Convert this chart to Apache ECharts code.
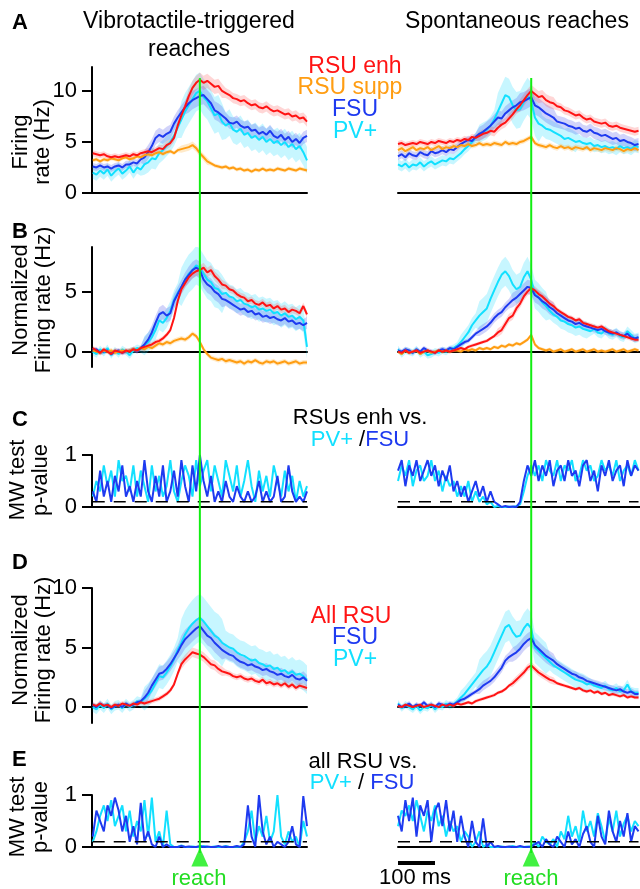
<!DOCTYPE html>
<html><head><meta charset="utf-8">
<script src="https://cdn.jsdelivr.net/npm/echarts@6/dist/echarts.min.js"></script>
<style>html,body{margin:0;padding:0;background:#fff}#c{width:640px;height:889px}</style>
</head><body><div id="c"></div>
<script>
const FONT = '"Liberation Sans", Arial, Helvetica, sans-serif';
// time bins, ms relative to reach onset
const BIN_MS = 10;
const T_LEFT_START = -290, T_LEFT_N = 59;    // vibrotactile-triggered
const T_RIGHT_START = -360, T_RIGHT_N = 66;  // spontaneous
const REACH_T = 0;
const SCALE_BAR_MS = 100;
const P_THRESHOLD = 0.1;

// ---------- A: firing rate (Hz) ----------
const A_L_RSU_ENH = [3.9,3.8,3.7,3.8,3.6,3.5,3.6,3.5,3.6,3.7,3.6,3.8,3.7,3.9,4.0,4.1,4.0,4.2,4.4,4.3,4.7,4.9,5.4,6.6,7.6,8.5,9.5,10.3,10.8,11.1,10.8,11.0,10.7,10.4,10.5,10.0,9.8,9.6,9.3,9.2,9.0,9.1,8.8,8.6,8.7,8.4,8.3,8.5,8.2,8.0,8.1,7.9,7.7,7.8,7.5,7.6,7.3,7.4,7.0];
const A_L_RSU_SUPP = [3.2,3.3,3.1,3.3,3.2,3.4,3.3,3.2,3.4,3.5,3.3,3.4,3.6,3.5,3.7,3.8,3.7,3.9,4.0,3.8,4.0,4.1,3.9,4.2,4.3,4.4,4.5,4.7,4.4,3.9,3.5,3.1,2.9,2.7,2.6,2.5,2.6,2.4,2.5,2.3,2.4,2.2,2.3,2.1,2.3,2.2,2.4,2.2,2.3,2.2,2.4,2.3,2.2,2.4,2.3,2.2,2.4,2.3,2.2];
const A_L_FSU = [2.6,2.5,2.7,2.5,2.6,2.4,2.6,2.7,2.5,2.8,2.8,3.0,2.9,3.3,3.5,4.0,4.6,5.4,5.7,5.5,5.8,6.0,6.8,7.4,7.9,8.4,8.8,9.1,9.3,9.5,9.6,9.2,8.8,8.1,7.9,7.6,7.3,6.9,6.8,7.0,6.6,6.4,6.5,6.1,6.2,5.8,6.0,5.7,6.1,5.6,5.4,5.7,5.2,5.5,5.0,5.3,4.9,5.4,5.6];
const A_L_PV = [2.0,1.8,2.2,1.9,2.3,1.7,2.1,2.4,1.9,2.2,2.6,2.0,2.5,2.3,2.8,3.0,3.4,3.3,3.9,4.2,4.6,5.0,5.6,6.4,7.2,8.0,8.6,9.2,9.8,10.0,9.4,9.0,8.3,7.6,7.8,7.0,6.6,6.9,6.2,6.0,6.3,5.7,5.9,5.4,5.6,5.2,5.5,5.0,5.3,4.9,5.1,4.7,5.0,4.5,4.8,4.3,4.6,4.0,3.2];
const A_R_RSU_ENH = [4.8,4.9,4.7,4.8,4.9,4.8,5.0,4.9,4.8,5.0,4.9,5.1,5.0,4.9,5.1,5.0,5.2,5.1,5.3,5.2,5.5,5.4,5.6,5.8,5.9,6.1,6.0,6.4,6.7,6.9,7.3,7.7,8.2,8.6,9.1,9.6,10.0,9.7,9.4,9.5,9.1,8.9,8.8,8.5,8.4,8.1,8.0,7.8,7.6,7.7,7.4,7.2,7.3,7.0,6.9,6.8,6.9,6.6,6.5,6.6,6.4,6.3,6.2,6.1,6.0,6.1];
const A_R_RSU_SUPP = [4.2,4.4,4.1,4.3,4.5,4.2,4.4,4.3,4.5,4.2,4.4,4.6,4.3,4.5,4.4,4.6,4.5,4.7,4.6,4.8,4.6,4.7,4.9,4.7,4.8,4.7,4.9,4.8,4.7,5.0,4.8,4.9,4.8,5.0,5.1,5.3,5.5,4.9,4.7,4.6,4.5,4.7,4.5,4.4,4.6,4.4,4.5,4.3,4.5,4.4,4.3,4.5,4.2,4.4,4.3,4.2,4.4,4.3,4.2,4.4,4.3,4.1,4.3,4.2,4.4,4.2];
const A_R_FSU = [3.6,3.8,3.5,3.9,3.7,3.6,4.0,3.8,3.7,4.1,3.9,4.0,4.2,4.0,4.3,4.2,4.5,4.8,5.0,5.2,5.1,5.5,5.8,6.0,6.3,6.6,7.0,7.4,7.3,7.8,8.1,8.4,8.6,8.9,9.0,9.2,9.4,8.6,8.4,8.1,7.8,7.6,7.4,7.0,6.9,6.8,6.6,6.5,6.3,6.4,6.1,6.0,6.2,5.9,5.8,5.6,5.7,5.5,5.3,5.4,5.1,5.2,5.0,4.9,4.7,4.8];
const A_R_PV = [2.8,2.6,2.9,2.5,2.8,2.7,3.0,2.6,2.9,3.1,2.8,3.0,3.2,3.1,3.4,3.3,3.6,3.9,4.3,4.6,5.0,5.4,5.8,6.0,6.2,6.6,7.2,8.0,8.8,9.6,9.4,8.6,8.1,8.2,8.9,9.5,9.0,7.4,6.8,6.6,6.3,6.2,6.0,5.8,5.6,5.3,5.4,5.2,5.0,5.1,4.9,4.8,4.9,4.6,4.7,4.5,4.6,4.4,4.5,4.3,4.6,4.4,4.5,4.3,4.6,4.5];

// ---------- B: normalized firing rate (Hz) ----------
const B_L_RSU_ENH = [0.3,0.1,-0.1,0.2,0.0,-0.2,0.1,0.0,-0.1,0.1,0.0,0.2,0.1,0.3,0.4,0.5,0.6,0.8,0.9,1.1,1.4,1.8,2.8,4.2,5.2,5.7,6.2,6.5,6.7,6.8,7.0,6.6,6.8,6.3,6.0,5.6,5.5,5.2,5.1,4.8,4.6,4.5,4.2,4.3,4.0,3.9,4.1,3.8,3.9,3.6,3.8,3.5,3.6,3.3,3.5,3.4,3.2,3.8,3.1];
const B_L_RSU_SUPP = [0.1,0.0,-0.1,0.1,0.0,0.1,-0.1,0.0,0.1,0.0,0.1,0.2,0.1,0.3,0.2,0.4,0.3,0.5,0.7,0.6,0.8,0.7,0.9,1.0,1.1,1.0,1.2,1.5,1.3,0.8,0.2,-0.2,-0.5,-0.6,-0.7,-0.6,-0.8,-0.7,-0.8,-0.9,-0.8,-1.0,-0.8,-0.9,-0.7,-0.9,-1.0,-0.8,-0.9,-0.8,-1.0,-0.9,-0.8,-1.0,-0.9,-0.8,-1.0,-0.9,-0.9];
const B_L_FSU = [0.1,0.2,-0.1,0.0,0.1,-0.2,0.0,0.1,-0.1,0.0,0.1,0.2,0.0,0.3,0.6,1.0,1.6,2.4,3.1,3.3,3.0,3.2,4.2,4.8,5.4,6.0,6.4,6.8,7.0,6.8,6.0,5.6,5.4,5.0,4.8,4.4,4.3,4.1,3.9,3.7,3.5,3.6,3.3,3.4,3.1,3.2,2.9,3.0,2.8,2.9,2.7,2.6,2.8,2.5,2.6,2.3,2.4,2.2,2.4];
const B_L_PV = [0.0,-0.2,0.2,-0.1,0.3,-0.3,0.1,-0.2,0.2,0.0,-0.3,0.1,0.3,0.2,0.5,0.8,1.2,1.8,2.6,2.4,2.8,3.4,4.3,4.9,5.4,6.0,6.5,6.8,7.2,7.0,6.5,6.0,5.8,5.3,5.2,4.8,4.9,4.6,4.5,4.2,4.3,4.0,3.9,3.7,3.8,3.5,3.6,3.4,3.5,3.2,3.3,3.0,3.2,2.9,3.0,2.7,2.9,2.6,0.4];
const B_R_RSU_ENH = [0.0,-0.1,0.1,-0.1,0.0,0.1,-0.1,0.0,0.1,0.0,-0.1,0.1,0.0,0.1,0.0,0.1,0.2,0.3,0.2,0.4,0.5,0.6,0.7,0.8,0.9,1.1,1.3,1.6,1.8,2.3,2.8,3.0,3.6,4.0,4.6,5.0,5.3,5.1,4.8,4.6,4.3,4.0,3.8,3.5,3.3,3.1,2.9,2.8,2.6,2.7,2.4,2.3,2.2,2.1,2.0,2.1,1.9,1.7,1.6,1.5,1.4,1.3,1.2,1.1,1.0,1.0];
const B_R_RSU_SUPP = [0.0,-0.2,0.1,-0.1,0.0,0.1,-0.2,0.0,0.1,-0.1,0.0,0.1,0.0,0.1,0.0,0.1,0.1,0.0,0.2,0.1,0.2,0.1,0.3,0.2,0.3,0.2,0.4,0.3,0.5,0.4,0.6,0.5,0.7,0.6,0.8,1.0,1.4,0.6,0.3,0.2,0.1,0.2,0.0,0.1,0.2,0.0,0.1,0.2,0.0,0.1,0.2,0.0,0.1,0.2,0.0,0.1,0.0,0.1,0.2,0.0,0.1,0.2,0.0,0.1,0.2,0.1];
const B_R_FSU = [0.1,0.0,0.2,0.1,-0.1,0.2,0.0,0.3,0.1,0.0,-0.1,0.1,0.2,0.1,0.3,0.2,0.4,0.6,0.8,0.9,1.2,1.5,1.7,1.9,2.1,2.4,2.8,3.1,3.3,3.7,4.0,4.3,4.5,4.8,5.1,5.4,5.3,4.7,4.5,4.2,4.0,3.7,3.5,3.2,3.0,2.8,2.6,2.5,2.3,2.4,2.2,2.1,2.0,1.9,1.8,1.9,1.7,1.6,1.5,1.6,1.4,1.3,1.5,1.2,1.1,1.2];
const B_R_PV = [0.2,-0.2,0.1,0.0,-0.1,0.2,-0.2,0.0,-0.3,-0.2,0.0,-0.1,0.1,0.0,0.2,0.3,0.5,0.8,1.2,1.6,2.2,2.6,3.0,3.3,3.6,4.4,5.1,5.8,6.4,6.7,6.3,5.6,5.2,5.4,6.2,6.7,6.0,4.8,4.5,4.1,3.8,3.4,3.1,2.9,2.6,2.5,2.3,2.2,2.0,2.1,1.9,1.8,1.7,1.9,1.6,1.5,1.8,1.5,1.4,1.6,1.3,1.2,1.7,1.4,1.1,1.2];

// ---------- C: MW test p-value, RSU enh vs PV+ / FSU ----------
const C_L_FSU = [0.3,0.1,0.7,0.2,0.5,0.1,0.6,0.3,0.8,0.2,0.4,0.1,0.5,0.2,0.9,0.3,0.1,0.6,0.2,0.8,0.1,0.3,0.7,0.2,0.9,0.4,0.1,0.8,0.3,1.0,0.5,0.2,0.6,0.1,0.3,0.1,0.5,0.2,0.1,0.4,0.2,0.1,0.3,0.1,0.2,0.5,0.1,0.3,0.1,0.2,0.6,0.1,0.2,0.8,0.3,0.1,0.2,0.1,0.3];
const C_L_PV = [0.2,0.5,0.3,0.8,0.4,0.7,0.2,0.9,0.5,0.6,0.3,0.8,0.2,0.7,0.4,0.1,0.8,0.3,0.6,0.2,0.4,0.9,0.3,0.1,0.5,0.8,0.6,0.2,0.9,0.4,0.7,0.9,0.3,0.8,0.5,0.2,0.9,0.6,0.3,0.8,0.2,0.5,0.9,0.4,0.1,0.7,0.3,0.6,0.2,0.8,0.5,0.2,0.7,0.3,0.6,0.1,0.5,0.2,0.4];
const C_R_FSU = [0.7,0.9,0.4,0.8,0.6,0.9,0.5,0.7,0.9,0.6,0.8,0.4,0.7,0.5,0.8,0.3,0.5,0.2,0.4,0.1,0.3,0.5,0.2,0.4,0.1,0.3,0.1,0.05,0.0,0.02,0.0,0.01,0.0,0.1,0.5,0.8,0.6,0.9,0.5,0.8,0.6,0.9,0.4,0.7,0.8,0.5,0.9,0.6,0.7,0.4,0.8,0.9,0.5,0.7,0.3,0.8,0.6,0.9,0.5,0.7,0.8,0.4,0.9,0.6,0.8,0.7];
const C_R_PV = [0.5,0.8,0.6,0.9,0.4,0.7,0.8,0.5,0.6,0.9,0.5,0.7,0.3,0.6,0.4,0.5,0.2,0.4,0.2,0.5,0.1,0.3,0.1,0.2,0.05,0.1,0.0,0.02,0.0,0.0,0.01,0.0,0.02,0.05,0.3,0.6,0.8,0.6,0.8,0.5,0.9,0.7,0.6,0.9,0.5,0.8,0.7,0.9,0.5,0.6,0.9,0.7,0.8,0.5,0.6,0.9,0.7,0.8,0.6,0.9,0.5,0.7,0.8,0.6,0.9,0.7];

// ---------- D: normalized firing rate (Hz), all RSU ----------
const D_L_RSU = [0.2,0.1,0.3,0.1,0.2,0.0,0.2,0.1,0.3,0.2,0.1,0.3,0.2,0.4,0.3,0.4,0.5,0.6,0.7,0.9,1.1,1.4,1.9,2.8,3.6,4.0,4.3,4.6,4.5,4.4,4.2,3.9,3.6,3.5,3.2,3.0,2.9,2.8,2.6,2.5,2.6,2.4,2.3,2.4,2.2,2.1,2.3,2.0,2.1,1.9,2.0,1.8,2.0,1.7,1.9,1.6,1.8,1.7,1.6];
const D_L_FSU = [0.2,0.0,0.3,0.1,0.2,-0.1,0.1,0.2,0.0,0.3,0.1,0.2,0.4,0.5,0.8,1.2,1.8,2.3,2.8,2.9,3.2,3.6,4.1,4.6,5.2,5.7,6.0,6.3,6.6,6.8,6.4,6.0,5.8,5.4,5.1,4.8,4.6,4.4,4.3,4.0,3.8,3.7,3.5,3.6,3.4,3.3,3.1,3.2,3.0,2.9,2.7,2.8,2.6,2.5,2.7,2.4,2.3,2.5,2.2];
const D_L_PV = [0.0,-0.2,0.2,-0.1,0.3,-0.2,0.1,0.2,-0.1,0.3,0.0,0.2,0.5,0.4,0.7,1.0,1.4,2.0,2.6,2.5,2.9,3.4,4.0,4.8,5.4,6.1,6.6,7.0,7.3,7.5,7.2,6.8,6.4,6.0,5.8,5.4,5.2,5.0,4.9,4.6,4.4,4.3,4.1,3.9,4.0,3.7,3.6,3.4,3.5,3.2,3.3,3.0,3.1,2.8,3.0,2.7,2.8,2.6,2.3];
const D_R_RSU = [0.1,0.0,0.2,0.1,0.0,0.1,0.2,0.0,0.1,0.2,0.1,0.0,0.2,0.1,0.2,0.1,0.3,0.2,0.3,0.4,0.3,0.5,0.6,0.7,0.8,0.9,1.0,1.2,1.3,1.5,1.8,2.0,2.3,2.6,2.9,3.3,3.5,3.2,2.9,2.7,2.5,2.3,2.2,2.0,1.9,1.8,1.7,1.6,1.5,1.6,1.4,1.3,1.4,1.2,1.3,1.1,1.2,1.0,1.1,1.0,0.9,1.0,0.8,0.9,0.8,0.8];
const D_R_FSU = [0.2,0.0,0.1,0.3,0.0,0.2,0.1,0.4,0.1,0.2,0.0,0.3,0.2,0.1,0.3,0.2,0.4,0.6,0.7,0.9,1.1,1.3,1.5,1.8,2.0,2.2,2.5,2.9,3.3,3.9,4.2,4.4,4.6,4.9,5.3,5.6,5.8,5.2,4.9,4.6,4.3,4.1,3.9,3.6,3.4,3.2,3.0,2.8,2.7,2.5,2.4,2.2,2.1,2.0,1.9,1.8,1.7,1.6,1.5,1.4,1.5,1.3,1.2,1.3,1.1,1.1];
const D_R_PV = [0.3,-0.1,0.2,0.0,-0.2,0.1,-0.3,0.0,-0.1,0.2,-0.2,0.1,0.0,0.3,0.1,0.2,0.5,0.8,1.1,1.5,1.9,2.3,2.7,3.1,3.4,3.9,4.6,5.3,6.0,6.7,6.9,6.3,5.9,6.0,6.6,7.0,6.6,5.0,4.7,4.4,4.1,3.8,3.5,3.3,3.1,2.9,2.7,2.5,2.3,2.2,2.1,1.9,2.0,1.8,1.7,1.6,1.8,1.5,1.4,1.6,1.3,1.4,1.9,1.3,1.2,1.2];

// ---------- E: MW test p-value, all RSU vs PV+ / FSU ----------
const E_L_FSU = [0.2,0.7,0.5,0.3,0.8,0.6,0.95,0.7,0.3,0.6,0.1,0.4,0.05,0.85,0.1,0.3,0.05,0.0,0.2,0.0,0.05,0.0,0.0,0.0,0.02,0.0,0.01,0.0,0.0,0.02,0.0,0.01,0.0,0.0,0.02,0.0,0.01,0.0,0.0,0.02,0.0,0.05,0.8,0.2,0.0,1.0,0.3,0.05,0.2,0.0,0.1,0.05,0.0,0.1,0.4,0.05,0.0,0.98,0.4];
const E_L_PV = [0.1,0.3,0.6,0.8,0.5,0.9,0.4,0.6,0.8,0.3,0.7,0.2,0.5,0.3,0.9,0.2,0.95,0.1,0.3,0.0,0.7,0.05,0.0,0.0,0.03,0.0,0.0,0.01,0.0,0.0,0.02,0.0,0.0,0.01,0.0,0.0,0.02,0.0,0.0,0.01,0.0,0.1,0.3,0.7,0.1,0.4,0.2,0.6,0.1,0.3,1.0,0.2,0.05,0.3,0.1,0.2,0.0,0.5,0.2];
const E_R_FSU = [0.6,0.3,0.9,0.5,0.95,0.2,0.8,0.6,0.9,0.1,0.7,0.85,0.4,0.9,0.3,0.7,0.1,0.6,0.2,0.0,0.5,0.1,0.0,0.55,0.0,0.1,0.0,0.02,0.0,0.0,0.01,0.0,0.0,0.02,0.0,0.0,0.01,0.05,0.1,0.0,0.15,0.05,0.0,0.2,0.1,0.0,0.3,0.05,0.15,0.0,0.25,0.4,0.1,0.0,0.6,0.2,0.05,0.7,0.3,0.1,0.5,0.2,0.65,0.1,0.4,0.3];
const E_R_PV = [0.4,0.7,0.6,0.8,0.5,0.9,0.6,0.3,0.7,0.5,0.8,0.4,0.6,0.2,0.5,0.3,0.4,0.1,0.3,0.2,0.0,0.1,0.3,0.0,0.05,0.0,0.0,0.0,0.01,0.0,0.0,0.02,0.0,0.0,0.0,0.01,0.0,0.1,0.0,0.2,0.1,0.05,0.15,0.0,0.3,0.15,0.6,0.2,0.4,0.1,0.7,0.3,0.5,0.2,0.65,0.4,0.1,0.55,0.3,0.7,0.2,0.45,0.6,0.3,0.5,0.4];

// ---------- s.e.m. half-widths: [up to time (ms), value] ----------
const A_L_RSU_ENH_SE = [[-110,0.3],[-40,0.4],[60,0.7],[290,0.5]];
const A_L_RSU_SUPP_SE = [[-60,0.2],[20,0.35],[290,0.2]];
const A_L_FSU_SE = [[-160,0.35],[-40,0.7],[60,0.9],[290,0.6]];
const A_L_PV_SE = [[-160,0.6],[-60,1.0],[60,1.8],[290,1.3]];
const A_R_RSU_ENH_SE = [[-150,0.3],[-40,0.45],[60,0.6],[290,0.4]];
const A_R_RSU_SUPP_SE = [[290,0.25]];
const A_R_FSU_SE = [[-150,0.4],[-40,0.7],[60,0.9],[290,0.6]];
const A_R_PV_SE = [[-150,0.5],[-100,0.9],[20,1.8],[120,1.0],[290,0.6]];
const B_L_RSU_ENH_SE = [[-60,0.2],[60,0.4],[290,0.3]];
const B_L_RSU_SUPP_SE = [[290,0.2]];
const B_L_FSU_SE = [[-160,0.2],[-40,0.6],[60,0.7],[290,0.5]];
const B_L_PV_SE = [[-160,0.3],[-60,0.8],[60,1.6],[290,1.0]];
const B_R_RSU_ENH_SE = [[-100,0.15],[60,0.35],[290,0.2]];
const B_R_RSU_SUPP_SE = [[290,0.15]];
const B_R_FSU_SE = [[-150,0.2],[-60,0.4],[60,0.6],[290,0.3]];
const B_R_PV_SE = [[-200,0.3],[-150,0.6],[40,1.2],[150,0.7],[290,0.4]];
const D_L_RSU_SE = [[-60,0.2],[60,0.4],[290,0.25]];
const D_L_FSU_SE = [[-160,0.2],[-60,0.6],[60,0.8],[290,0.5]];
const D_L_PV_SE = [[-160,0.4],[-60,1.0],[60,2.0],[290,1.2]];
const D_R_RSU_SE = [[-60,0.15],[60,0.3],[290,0.15]];
const D_R_FSU_SE = [[-150,0.2],[-60,0.4],[60,0.6],[290,0.3]];
const D_R_PV_SE = [[-200,0.3],[-150,0.6],[40,1.3],[150,0.7],[290,0.4]];

// ---------- styling ----------
const COLORS = {enh:'#ff1414', supp:'#ff9d12', fsu:'#1e3af0', pv:'#12e0ff'};
const BANDS = {enh:'rgba(255,70,70,0.22)', supp:'rgba(255,170,40,0.25)', fsu:'rgba(70,80,235,0.25)', pv:'rgba(30,220,255,0.25)'};
const GREEN = '#12ee12', GREEN_TXT = '#22dd22';

function timeAxis(start, n){ const a=[]; for(let i=0;i<n;i++) a.push(start + i*BIN_MS); return a; }
const T_L = timeAxis(T_LEFT_START, T_LEFT_N);
const T_R = timeAxis(T_RIGHT_START, T_RIGHT_N);
function seAt(segs, t){ for (const s of segs) if (t <= s[0]) return s[1]; return segs[segs.length-1][1]; }

const COLS = [{left:92, width:215, min:-292, max:290}, {left:398, width:242, min:-360, max:294}];
const ROWS = [
  {top:67,  height:126, min:0,     max:12.35, ticks:[0,5,10]},
  {top:247, height:120, min:-1.28, max:8.72,  ticks:[0,5]},
  {top:455, height:52,  min:0,     max:1,     ticks:[0,1]},
  {top:588, height:135, min:-1.34, max:10,    ticks:[0,5,10]},
  {top:795, height:52,  min:0,     max:1,     ticks:[0,1]}
];

const grid=[], xAxis=[], yAxis=[], series=[];
ROWS.forEach((r, ri) => {
  COLS.forEach((c, ci) => {
    const gi = grid.length;
    grid.push({left:c.left, width:c.width, top:r.top, height:r.height, containLabel:false});
    xAxis.push({type:'value', gridIndex:gi, min:c.min, max:c.max,
      axisLine:{show:true, onZero:true, lineStyle:{color:'#000', width:2}},
      axisTick:{show:false}, axisLabel:{show:false}, splitLine:{show:false}});
    const left = ci === 0;
    yAxis.push({type:'value', gridIndex:gi, min:r.min, max:r.max,
      axisLine:{show:left, onZero:false, lineStyle:{color:'#000', width:2}},
      axisTick:{show:left, inside:false, length:10, customValues:r.ticks, lineStyle:{color:'#000', width:2}},
      axisLabel:{show:left, customValues:r.ticks, fontSize:22, color:'#000', fontFamily:FONT, margin:15},
      splitLine:{show:false}});
  });
});
// overlay grids for reach marker / scale bar (y: 0 = top at 78px, increases downwards)
COLS.forEach(c => {
  const gi = grid.length;
  grid.push({left:c.left, width:c.width, top:78, height:800});
  xAxis.push({type:'value', gridIndex:gi, min:c.min, max:c.max, show:false});
  yAxis.push({type:'value', gridIndex:gi, min:0, max:800, inverse:true, show:false});
});

function pts(T, vals){ return vals.map((v,i)=>[T[i], v]); }
// shaded s.e.m. band drawn as one polygon through the axis scales
function addBand(gi, T, vals, segs, key){
  const data = vals.map((v,i)=>{ const s = seAt(segs, T[i]); return [T[i], v - s, v + s]; });
  series.push({type:'custom', xAxisIndex:gi, yAxisIndex:gi, silent:true, z:1,
    encode:{x:0, y:[1,2]}, data,
    renderItem:(params, api) => {
      if (params.dataIndex !== 0) return null;
      const up = [], dn = [];
      data.forEach(d => { up.push(api.coord([d[0], d[2]])); dn.push(api.coord([d[0], d[1]])); });
      const cs = params.coordSys;
      return {type:'polygon', shape:{points: up.concat(dn.reverse())},
        style:{fill: BANDS[key]},
        clipPath:{type:'rect', shape:{x:cs.x, y:cs.y, width:cs.width, height:cs.height}}};
    }});
}
function addLine(gi, T, vals, key, w){
  series.push({type:'line', xAxisIndex:gi, yAxisIndex:gi, symbol:'none', silent:true, z:2,
    lineStyle:{color:COLORS[key], width:w}, data: pts(T, vals)});
}

const RATE_PANELS = [
  {g:0, T:T_L, lines:[[A_L_PV,'pv',A_L_PV_SE],[A_L_FSU,'fsu',A_L_FSU_SE],[A_L_RSU_SUPP,'supp',A_L_RSU_SUPP_SE],[A_L_RSU_ENH,'enh',A_L_RSU_ENH_SE]]},
  {g:1, T:T_R, lines:[[A_R_PV,'pv',A_R_PV_SE],[A_R_FSU,'fsu',A_R_FSU_SE],[A_R_RSU_SUPP,'supp',A_R_RSU_SUPP_SE],[A_R_RSU_ENH,'enh',A_R_RSU_ENH_SE]]},
  {g:2, T:T_L, lines:[[B_L_PV,'pv',B_L_PV_SE],[B_L_FSU,'fsu',B_L_FSU_SE],[B_L_RSU_SUPP,'supp',B_L_RSU_SUPP_SE],[B_L_RSU_ENH,'enh',B_L_RSU_ENH_SE]]},
  {g:3, T:T_R, lines:[[B_R_PV,'pv',B_R_PV_SE],[B_R_FSU,'fsu',B_R_FSU_SE],[B_R_RSU_SUPP,'supp',B_R_RSU_SUPP_SE],[B_R_RSU_ENH,'enh',B_R_RSU_ENH_SE]]},
  {g:6, T:T_L, lines:[[D_L_PV,'pv',D_L_PV_SE],[D_L_FSU,'fsu',D_L_FSU_SE],[D_L_RSU,'enh',D_L_RSU_SE]]},
  {g:7, T:T_R, lines:[[D_R_PV,'pv',D_R_PV_SE],[D_R_FSU,'fsu',D_R_FSU_SE],[D_R_RSU,'enh',D_R_RSU_SE]]}
];
RATE_PANELS.forEach(p => {
  p.lines.forEach(l => addBand(p.g, p.T, l[0], l[2], l[1]));
  p.lines.forEach(l => addLine(p.g, p.T, l[0], l[1], 2));
});
const P_PANELS = [
  {g:4, T:T_L, lines:[[C_L_PV,'pv'],[C_L_FSU,'fsu']]},
  {g:5, T:T_R, lines:[[C_R_PV,'pv'],[C_R_FSU,'fsu']]},
  {g:8, T:T_L, lines:[[E_L_PV,'pv'],[E_L_FSU,'fsu']]},
  {g:9, T:T_R, lines:[[E_R_PV,'pv'],[E_R_FSU,'fsu']]}
];
P_PANELS.forEach(p => {
  p.lines.forEach(l => addLine(p.g, p.T, l[0], l[1], 2));
  series.push({type:'line', xAxisIndex:p.g, yAxisIndex:p.g, symbol:'none', silent:true, z:3,
    lineStyle:{color:'#000', width:1.6, type:[12,9]},
    data:[[p.T[0], P_THRESHOLD], [p.T[p.T.length-1], P_THRESHOLD]]});
});
// reach line + triangle, scale bar
[10, 11].forEach(gi => {
  series.push({type:'line', xAxisIndex:gi, yAxisIndex:gi, symbol:'none', silent:true, z:20,
    lineStyle:{color:GREEN, width:2}, data:[[REACH_T, 0],[REACH_T, 775]]});
  series.push({type:'scatter', xAxisIndex:gi, yAxisIndex:gi, silent:true, z:21, symbol:'triangle',
    symbolSize:[17,19], itemStyle:{color:GREEN}, data:[[REACH_T, 779]]});
});
series.push({type:'line', xAxisIndex:11, yAxisIndex:11, symbol:'none', silent:true, z:20,
  lineStyle:{color:'#000', width:4}, data:[[T_RIGHT_START, 785],[T_RIGHT_START + SCALE_BAR_MS, 785]]});

function txt(x, y, text, o){
  o = o || {};
  return {type:'text', x, y, rotation:o.rot||0, z:100, style:{text, fill:o.color||'#000',
    fontSize:o.size||22, fontFamily:FONT, fontWeight:o.weight||'normal',
    textAlign:o.align||'center', align:o.align||'center', textVerticalAlign:'middle', verticalAlign:'middle',
    rich:o.rich}};
}
const R90 = Math.PI/2;
const richPV = {c:{fill:COLORS.pv, fontSize:22, fontFamily:FONT}, b:{fill:COLORS.fsu, fontSize:22, fontFamily:FONT}, k:{fill:'#000', fontSize:22, fontFamily:FONT}};
const graphic = [
  txt(12, 23, 'A', {weight:'bold', align:'left'}),
  txt(12, 232, 'B', {weight:'bold', align:'left'}),
  txt(12, 420, 'C', {weight:'bold', align:'left'}),
  txt(12, 563, 'D', {weight:'bold', align:'left'}),
  txt(12, 760, 'E', {weight:'bold', align:'left'}),
  txt(189, 22, 'Vibrotactile-triggered', {size:23}),
  txt(189, 50, 'reaches', {size:23}),
  txt(517, 22, 'Spontaneous reaches', {size:23}),
  txt(355, 67, 'RSU enh', {color:COLORS.enh, size:23}),
  txt(350, 88, 'RSU supp', {color:COLORS.supp, size:23}),
  txt(355, 110, 'FSU', {color:COLORS.fsu, size:23}),
  txt(355, 132, 'PV+', {color:COLORS.pv, size:23}),
  txt(360, 418, 'RSUs enh vs.'),
  txt(360, 440, '{c|PV+} {k|/}{b|FSU}', {rich:richPV}),
  txt(351, 617, 'All RSU', {color:COLORS.enh, size:23}),
  txt(355, 638, 'FSU', {color:COLORS.fsu, size:23}),
  txt(355, 660, 'PV+', {color:COLORS.pv, size:23}),
  txt(363, 762, 'all RSU vs.'),
  txt(362, 783, '{c|PV+} {k|/} {b|FSU}', {rich:richPV}),
  txt(21, 142, 'Firing', {rot:R90}),
  txt(43, 142, 'rate (Hz)', {rot:R90}),
  txt(21, 300, 'Normalized', {rot:R90}),
  txt(44, 300, 'Firing rate (Hz)', {rot:R90}),
  txt(18, 480, 'MW test', {rot:R90}),
  txt(41, 480, 'p-value', {rot:R90}),
  txt(21, 650, 'Normalized', {rot:R90}),
  txt(44, 650, 'Firing rate (Hz)', {rot:R90}),
  txt(18, 817, 'MW test', {rot:R90}),
  txt(41, 817, 'p-value', {rot:R90}),
  txt(199, 879, 'reach', {color:GREEN_TXT}),
  txt(531, 879, 'reach', {color:GREEN_TXT}),
  txt(415, 878, '100 ms')
];

const chart = echarts.init(document.getElementById('c'), null, {renderer:'canvas', width:640, height:889});
chart.setOption({animation:false, backgroundColor:'#fff', grid, xAxis, yAxis, series, graphic});
</script>
</body></html>
